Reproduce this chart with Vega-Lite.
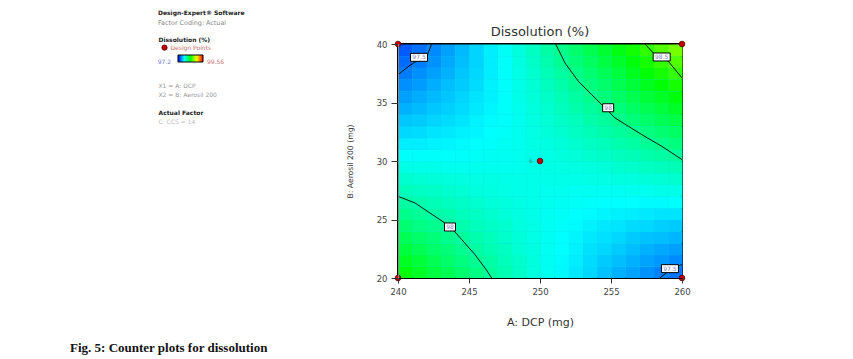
{
"$schema": "https://vega.github.io/schema/vega-lite/v6.json",
"background": "white",
"padding": {"left": 70, "top": 9, "right": 5, "bottom": 5},
"config": {
  "font": "DejaVu Sans",
  "view": {"stroke": "#000", "strokeWidth": 2},
  "axis": {"grid": false, "labelFont": "DejaVu Sans", "titleFont": "DejaVu Sans", "labelColor": "#444", "titleColor": "#333", "titleFontWeight": "normal", "tickColor": "#333", "domainColor": "#000", "labelFontSize": 8.5}
},
"title": {"text": "Fig. 5: Counter plots for dissolution", "orient": "bottom", "anchor": "start", "frame": "group", "font": "Liberation Serif", "fontSize": 13, "fontWeight": "bold", "color": "#111", "dx": -88, "offset": 13},
"bounds": "flush",
"spacing": 239,
"resolve": {"scale": {"color": "independent"}, "legend": {"color": "independent"}},
"datasets": {
  "lt": [
    {"line": 0, "t": "Dissolution (%)", "role": "heading"},
    {"line": 1, "t": "Design Points", "role": "points"},
    {"line": 5, "t": "X1 = A: DCP", "role": "coding"},
    {"line": 6, "t": "X2 = B: Aerosil 200", "role": "coding"},
    {"line": 8, "t": "Actual Factor", "role": "heading"},
    {"line": 9, "t": "C: CCS = 14", "role": "factor"}
  ],
  "points": [
    {"A": 240, "B": 20, "n": 1}, {"A": 240, "B": 40, "n": 1}, {"A": 260, "B": 20, "n": 1}, {"A": 260, "B": 40, "n": 1}, {"A": 250, "B": 30, "n": 6}
  ],
  "labels": [
    {"lab": "97.5", "A": 241.48, "B": 38.86},
    {"lab": "98.5", "A": 258.57, "B": 38.89},
    {"lab": "98", "A": 254.8, "B": 34.55},
    {"lab": "98", "A": 243.66, "B": 24.36},
    {"lab": "97.5", "A": 259.15, "B": 20.8}
  ],
  "contours": [
    {"c": "a", "o": 1, "A": 240, "B": 37.38}, {"c": "a", "o": 2, "A": 240.85, "B": 38.18}, {"c": "a", "o": 3, "A": 242.09, "B": 39.15}, {"c": "a", "o": 4, "A": 242.37, "B": 40},
    {"c": "b", "o": 1, "A": 257.39, "B": 40}, {"c": "b", "o": 2, "A": 257.98, "B": 39.23}, {"c": "b", "o": 3, "A": 259.04, "B": 38.52}, {"c": "b", "o": 4, "A": 260, "B": 37.1},
    {"c": "c", "o": 1, "A": 251.1, "B": 40}, {"c": "c", "o": 2, "A": 251.76, "B": 38.38}, {"c": "c", "o": 3, "A": 252.7, "B": 36.81}, {"c": "c", "o": 4, "A": 253.64, "B": 35.67}, {"c": "c", "o": 5, "A": 254.46, "B": 34.68}, {"c": "c", "o": 6, "A": 255.28, "B": 33.68}, {"c": "c", "o": 7, "A": 256.22, "B": 32.97}, {"c": "c", "o": 8, "A": 257.16, "B": 32.26}, {"c": "c", "o": 9, "A": 258.57, "B": 31.26}, {"c": "c", "o": 10, "A": 260, "B": 30.12},
    {"c": "d", "o": 1, "A": 240, "B": 26.98}, {"c": "d", "o": 2, "A": 241.2, "B": 26.41}, {"c": "d", "o": 3, "A": 242.6, "B": 25.27}, {"c": "d", "o": 4, "A": 243.66, "B": 24.42}, {"c": "d", "o": 5, "A": 244.49, "B": 23.28}, {"c": "d", "o": 6, "A": 245.42, "B": 22}, {"c": "d", "o": 7, "A": 246.13, "B": 20.85}, {"c": "d", "o": 8, "A": 246.6, "B": 20},
    {"c": "e", "o": 1, "A": 258.45, "B": 20}, {"c": "e", "o": 2, "A": 259.2, "B": 20.75}, {"c": "e", "o": 3, "A": 260, "B": 21.15}
  ],
  "grid": [
{"A":240.5,"B":20.5,"D":98.36},{"A":241.5,"B":20.5,"D":98.30},{"A":242.5,"B":20.5,"D":98.24},{"A":243.5,"B":20.5,"D":98.19},{"A":244.5,"B":20.5,"D":98.13},{"A":245.5,"B":20.5,"D":98.08},{"A":246.5,"B":20.5,"D":98.02},{"A":247.5,"B":20.5,"D":97.97},{"A":248.5,"B":20.5,"D":97.92},{"A":249.5,"B":20.5,"D":97.87},{"A":250.5,"B":20.5,"D":97.83},{"A":251.5,"B":20.5,"D":97.78},{"A":252.5,"B":20.5,"D":97.74},{"A":253.5,"B":20.5,"D":97.70},{"A":254.5,"B":20.5,"D":97.65},{"A":255.5,"B":20.5,"D":97.61},{"A":256.5,"B":20.5,"D":97.58},{"A":257.5,"B":20.5,"D":97.54},{"A":258.5,"B":20.5,"D":97.50},{"A":259.5,"B":20.5,"D":97.47},
{"A":240.5,"B":21.5,"D":98.30},{"A":241.5,"B":21.5,"D":98.25},{"A":242.5,"B":21.5,"D":98.19},{"A":243.5,"B":21.5,"D":98.14},{"A":244.5,"B":21.5,"D":98.09},{"A":245.5,"B":21.5,"D":98.04},{"A":246.5,"B":21.5,"D":98.00},{"A":247.5,"B":21.5,"D":97.95},{"A":248.5,"B":21.5,"D":97.91},{"A":249.5,"B":21.5,"D":97.87},{"A":250.5,"B":21.5,"D":97.82},{"A":251.5,"B":21.5,"D":97.78},{"A":252.5,"B":21.5,"D":97.75},{"A":253.5,"B":21.5,"D":97.71},{"A":254.5,"B":21.5,"D":97.67},{"A":255.5,"B":21.5,"D":97.64},{"A":256.5,"B":21.5,"D":97.61},{"A":257.5,"B":21.5,"D":97.58},{"A":258.5,"B":21.5,"D":97.55},{"A":259.5,"B":21.5,"D":97.52},
{"A":240.5,"B":22.5,"D":98.24},{"A":241.5,"B":22.5,"D":98.19},{"A":242.5,"B":22.5,"D":98.14},{"A":243.5,"B":22.5,"D":98.10},{"A":244.5,"B":22.5,"D":98.05},{"A":245.5,"B":22.5,"D":98.01},{"A":246.5,"B":22.5,"D":97.97},{"A":247.5,"B":22.5,"D":97.93},{"A":248.5,"B":22.5,"D":97.89},{"A":249.5,"B":22.5,"D":97.86},{"A":250.5,"B":22.5,"D":97.82},{"A":251.5,"B":22.5,"D":97.79},{"A":252.5,"B":22.5,"D":97.76},{"A":253.5,"B":22.5,"D":97.72},{"A":254.5,"B":22.5,"D":97.70},{"A":255.5,"B":22.5,"D":97.67},{"A":256.5,"B":22.5,"D":97.64},{"A":257.5,"B":22.5,"D":97.61},{"A":258.5,"B":22.5,"D":97.59},{"A":259.5,"B":22.5,"D":97.57},
{"A":240.5,"B":23.5,"D":98.18},{"A":241.5,"B":23.5,"D":98.14},{"A":242.5,"B":23.5,"D":98.10},{"A":243.5,"B":23.5,"D":98.06},{"A":244.5,"B":23.5,"D":98.02},{"A":245.5,"B":23.5,"D":97.98},{"A":246.5,"B":23.5,"D":97.95},{"A":247.5,"B":23.5,"D":97.91},{"A":248.5,"B":23.5,"D":97.88},{"A":249.5,"B":23.5,"D":97.85},{"A":250.5,"B":23.5,"D":97.82},{"A":251.5,"B":23.5,"D":97.79},{"A":252.5,"B":23.5,"D":97.77},{"A":253.5,"B":23.5,"D":97.74},{"A":254.5,"B":23.5,"D":97.72},{"A":255.5,"B":23.5,"D":97.70},{"A":256.5,"B":23.5,"D":97.67},{"A":257.5,"B":23.5,"D":97.65},{"A":258.5,"B":23.5,"D":97.64},{"A":259.5,"B":23.5,"D":97.62},
{"A":240.5,"B":24.5,"D":98.12},{"A":241.5,"B":24.5,"D":98.08},{"A":242.5,"B":24.5,"D":98.05},{"A":243.5,"B":24.5,"D":98.02},{"A":244.5,"B":24.5,"D":97.98},{"A":245.5,"B":24.5,"D":97.95},{"A":246.5,"B":24.5,"D":97.92},{"A":247.5,"B":24.5,"D":97.90},{"A":248.5,"B":24.5,"D":97.87},{"A":249.5,"B":24.5,"D":97.85},{"A":250.5,"B":24.5,"D":97.82},{"A":251.5,"B":24.5,"D":97.80},{"A":252.5,"B":24.5,"D":97.78},{"A":253.5,"B":24.5,"D":97.76},{"A":254.5,"B":24.5,"D":97.74},{"A":255.5,"B":24.5,"D":97.73},{"A":256.5,"B":24.5,"D":97.71},{"A":257.5,"B":24.5,"D":97.70},{"A":258.5,"B":24.5,"D":97.68},{"A":259.5,"B":24.5,"D":97.67},
{"A":240.5,"B":25.5,"D":98.06},{"A":241.5,"B":25.5,"D":98.03},{"A":242.5,"B":25.5,"D":98.00},{"A":243.5,"B":25.5,"D":97.98},{"A":244.5,"B":25.5,"D":97.95},{"A":245.5,"B":25.5,"D":97.93},{"A":246.5,"B":25.5,"D":97.90},{"A":247.5,"B":25.5,"D":97.88},{"A":248.5,"B":25.5,"D":97.86},{"A":249.5,"B":25.5,"D":97.84},{"A":250.5,"B":25.5,"D":97.82},{"A":251.5,"B":25.5,"D":97.81},{"A":252.5,"B":25.5,"D":97.79},{"A":253.5,"B":25.5,"D":97.78},{"A":254.5,"B":25.5,"D":97.77},{"A":255.5,"B":25.5,"D":97.76},{"A":256.5,"B":25.5,"D":97.75},{"A":257.5,"B":25.5,"D":97.74},{"A":258.5,"B":25.5,"D":97.73},{"A":259.5,"B":25.5,"D":97.73},
{"A":240.5,"B":26.5,"D":98.01},{"A":241.5,"B":26.5,"D":97.98},{"A":242.5,"B":26.5,"D":97.96},{"A":243.5,"B":26.5,"D":97.94},{"A":244.5,"B":26.5,"D":97.92},{"A":245.5,"B":26.5,"D":97.90},{"A":246.5,"B":26.5,"D":97.88},{"A":247.5,"B":26.5,"D":97.87},{"A":248.5,"B":26.5,"D":97.85},{"A":249.5,"B":26.5,"D":97.84},{"A":250.5,"B":26.5,"D":97.83},{"A":251.5,"B":26.5,"D":97.82},{"A":252.5,"B":26.5,"D":97.81},{"A":253.5,"B":26.5,"D":97.80},{"A":254.5,"B":26.5,"D":97.79},{"A":255.5,"B":26.5,"D":97.79},{"A":256.5,"B":26.5,"D":97.79},{"A":257.5,"B":26.5,"D":97.78},{"A":258.5,"B":26.5,"D":97.78},{"A":259.5,"B":26.5,"D":97.79},
{"A":240.5,"B":27.5,"D":97.95},{"A":241.5,"B":27.5,"D":97.93},{"A":242.5,"B":27.5,"D":97.92},{"A":243.5,"B":27.5,"D":97.90},{"A":244.5,"B":27.5,"D":97.89},{"A":245.5,"B":27.5,"D":97.87},{"A":246.5,"B":27.5,"D":97.86},{"A":247.5,"B":27.5,"D":97.85},{"A":248.5,"B":27.5,"D":97.84},{"A":249.5,"B":27.5,"D":97.84},{"A":250.5,"B":27.5,"D":97.83},{"A":251.5,"B":27.5,"D":97.83},{"A":252.5,"B":27.5,"D":97.82},{"A":253.5,"B":27.5,"D":97.82},{"A":254.5,"B":27.5,"D":97.82},{"A":255.5,"B":27.5,"D":97.82},{"A":256.5,"B":27.5,"D":97.83},{"A":257.5,"B":27.5,"D":97.83},{"A":258.5,"B":27.5,"D":97.84},{"A":259.5,"B":27.5,"D":97.84},
{"A":240.5,"B":28.5,"D":97.90},{"A":241.5,"B":28.5,"D":97.89},{"A":242.5,"B":28.5,"D":97.88},{"A":243.5,"B":28.5,"D":97.87},{"A":244.5,"B":28.5,"D":97.86},{"A":245.5,"B":28.5,"D":97.85},{"A":246.5,"B":28.5,"D":97.85},{"A":247.5,"B":28.5,"D":97.84},{"A":248.5,"B":28.5,"D":97.84},{"A":249.5,"B":28.5,"D":97.84},{"A":250.5,"B":28.5,"D":97.84},{"A":251.5,"B":28.5,"D":97.84},{"A":252.5,"B":28.5,"D":97.84},{"A":253.5,"B":28.5,"D":97.85},{"A":254.5,"B":28.5,"D":97.85},{"A":255.5,"B":28.5,"D":97.86},{"A":256.5,"B":28.5,"D":97.87},{"A":257.5,"B":28.5,"D":97.88},{"A":258.5,"B":28.5,"D":97.89},{"A":259.5,"B":28.5,"D":97.90},
{"A":240.5,"B":29.5,"D":97.85},{"A":241.5,"B":29.5,"D":97.84},{"A":242.5,"B":29.5,"D":97.84},{"A":243.5,"B":29.5,"D":97.83},{"A":244.5,"B":29.5,"D":97.83},{"A":245.5,"B":29.5,"D":97.83},{"A":246.5,"B":29.5,"D":97.83},{"A":247.5,"B":29.5,"D":97.83},{"A":248.5,"B":29.5,"D":97.83},{"A":249.5,"B":29.5,"D":97.84},{"A":250.5,"B":29.5,"D":97.85},{"A":251.5,"B":29.5,"D":97.85},{"A":252.5,"B":29.5,"D":97.86},{"A":253.5,"B":29.5,"D":97.87},{"A":254.5,"B":29.5,"D":97.88},{"A":255.5,"B":29.5,"D":97.90},{"A":256.5,"B":29.5,"D":97.91},{"A":257.5,"B":29.5,"D":97.93},{"A":258.5,"B":29.5,"D":97.94},{"A":259.5,"B":29.5,"D":97.96},
{"A":240.5,"B":30.5,"D":97.80},{"A":241.5,"B":30.5,"D":97.80},{"A":242.5,"B":30.5,"D":97.80},{"A":243.5,"B":30.5,"D":97.80},{"A":244.5,"B":30.5,"D":97.80},{"A":245.5,"B":30.5,"D":97.81},{"A":246.5,"B":30.5,"D":97.82},{"A":247.5,"B":30.5,"D":97.82},{"A":248.5,"B":30.5,"D":97.83},{"A":249.5,"B":30.5,"D":97.84},{"A":250.5,"B":30.5,"D":97.85},{"A":251.5,"B":30.5,"D":97.87},{"A":252.5,"B":30.5,"D":97.88},{"A":253.5,"B":30.5,"D":97.90},{"A":254.5,"B":30.5,"D":97.92},{"A":255.5,"B":30.5,"D":97.94},{"A":256.5,"B":30.5,"D":97.96},{"A":257.5,"B":30.5,"D":97.98},{"A":258.5,"B":30.5,"D":98.00},{"A":259.5,"B":30.5,"D":98.02},
{"A":240.5,"B":31.5,"D":97.75},{"A":241.5,"B":31.5,"D":97.75},{"A":242.5,"B":31.5,"D":97.76},{"A":243.5,"B":31.5,"D":97.77},{"A":244.5,"B":31.5,"D":97.78},{"A":245.5,"B":31.5,"D":97.79},{"A":246.5,"B":31.5,"D":97.80},{"A":247.5,"B":31.5,"D":97.82},{"A":248.5,"B":31.5,"D":97.83},{"A":249.5,"B":31.5,"D":97.85},{"A":250.5,"B":31.5,"D":97.86},{"A":251.5,"B":31.5,"D":97.88},{"A":252.5,"B":31.5,"D":97.90},{"A":253.5,"B":31.5,"D":97.93},{"A":254.5,"B":31.5,"D":97.95},{"A":255.5,"B":31.5,"D":97.98},{"A":256.5,"B":31.5,"D":98.00},{"A":257.5,"B":31.5,"D":98.03},{"A":258.5,"B":31.5,"D":98.06},{"A":259.5,"B":31.5,"D":98.09},
{"A":240.5,"B":32.5,"D":97.70},{"A":241.5,"B":32.5,"D":97.71},{"A":242.5,"B":32.5,"D":97.73},{"A":243.5,"B":32.5,"D":97.74},{"A":244.5,"B":32.5,"D":97.76},{"A":245.5,"B":32.5,"D":97.77},{"A":246.5,"B":32.5,"D":97.79},{"A":247.5,"B":32.5,"D":97.81},{"A":248.5,"B":32.5,"D":97.83},{"A":249.5,"B":32.5,"D":97.85},{"A":250.5,"B":32.5,"D":97.88},{"A":251.5,"B":32.5,"D":97.90},{"A":252.5,"B":32.5,"D":97.93},{"A":253.5,"B":32.5,"D":97.96},{"A":254.5,"B":32.5,"D":97.99},{"A":255.5,"B":32.5,"D":98.02},{"A":256.5,"B":32.5,"D":98.05},{"A":257.5,"B":32.5,"D":98.08},{"A":258.5,"B":32.5,"D":98.12},{"A":259.5,"B":32.5,"D":98.15},
{"A":240.5,"B":33.5,"D":97.66},{"A":241.5,"B":33.5,"D":97.67},{"A":242.5,"B":33.5,"D":97.69},{"A":243.5,"B":33.5,"D":97.71},{"A":244.5,"B":33.5,"D":97.73},{"A":245.5,"B":33.5,"D":97.76},{"A":246.5,"B":33.5,"D":97.78},{"A":247.5,"B":33.5,"D":97.80},{"A":248.5,"B":33.5,"D":97.83},{"A":249.5,"B":33.5,"D":97.86},{"A":250.5,"B":33.5,"D":97.89},{"A":251.5,"B":33.5,"D":97.92},{"A":252.5,"B":33.5,"D":97.95},{"A":253.5,"B":33.5,"D":97.99},{"A":254.5,"B":33.5,"D":98.02},{"A":255.5,"B":33.5,"D":98.06},{"A":256.5,"B":33.5,"D":98.10},{"A":257.5,"B":33.5,"D":98.14},{"A":258.5,"B":33.5,"D":98.18},{"A":259.5,"B":33.5,"D":98.22},
{"A":240.5,"B":34.5,"D":97.61},{"A":241.5,"B":34.5,"D":97.63},{"A":242.5,"B":34.5,"D":97.66},{"A":243.5,"B":34.5,"D":97.68},{"A":244.5,"B":34.5,"D":97.71},{"A":245.5,"B":34.5,"D":97.74},{"A":246.5,"B":34.5,"D":97.77},{"A":247.5,"B":34.5,"D":97.80},{"A":248.5,"B":34.5,"D":97.83},{"A":249.5,"B":34.5,"D":97.87},{"A":250.5,"B":34.5,"D":97.90},{"A":251.5,"B":34.5,"D":97.94},{"A":252.5,"B":34.5,"D":97.98},{"A":253.5,"B":34.5,"D":98.02},{"A":254.5,"B":34.5,"D":98.06},{"A":255.5,"B":34.5,"D":98.10},{"A":256.5,"B":34.5,"D":98.15},{"A":257.5,"B":34.5,"D":98.19},{"A":258.5,"B":34.5,"D":98.24},{"A":259.5,"B":34.5,"D":98.29},
{"A":240.5,"B":35.5,"D":97.57},{"A":241.5,"B":35.5,"D":97.60},{"A":242.5,"B":35.5,"D":97.63},{"A":243.5,"B":35.5,"D":97.66},{"A":244.5,"B":35.5,"D":97.69},{"A":245.5,"B":35.5,"D":97.73},{"A":246.5,"B":35.5,"D":97.76},{"A":247.5,"B":35.5,"D":97.80},{"A":248.5,"B":35.5,"D":97.84},{"A":249.5,"B":35.5,"D":97.88},{"A":250.5,"B":35.5,"D":97.92},{"A":251.5,"B":35.5,"D":97.96},{"A":252.5,"B":35.5,"D":98.01},{"A":253.5,"B":35.5,"D":98.05},{"A":254.5,"B":35.5,"D":98.10},{"A":255.5,"B":35.5,"D":98.15},{"A":256.5,"B":35.5,"D":98.20},{"A":257.5,"B":35.5,"D":98.25},{"A":258.5,"B":35.5,"D":98.30},{"A":259.5,"B":35.5,"D":98.36},
{"A":240.5,"B":36.5,"D":97.53},{"A":241.5,"B":36.5,"D":97.56},{"A":242.5,"B":36.5,"D":97.60},{"A":243.5,"B":36.5,"D":97.64},{"A":244.5,"B":36.5,"D":97.67},{"A":245.5,"B":36.5,"D":97.71},{"A":246.5,"B":36.5,"D":97.76},{"A":247.5,"B":36.5,"D":97.80},{"A":248.5,"B":36.5,"D":97.84},{"A":249.5,"B":36.5,"D":97.89},{"A":250.5,"B":36.5,"D":97.94},{"A":251.5,"B":36.5,"D":97.99},{"A":252.5,"B":36.5,"D":98.04},{"A":253.5,"B":36.5,"D":98.09},{"A":254.5,"B":36.5,"D":98.14},{"A":255.5,"B":36.5,"D":98.20},{"A":256.5,"B":36.5,"D":98.25},{"A":257.5,"B":36.5,"D":98.31},{"A":258.5,"B":36.5,"D":98.37},{"A":259.5,"B":36.5,"D":98.43},
{"A":240.5,"B":37.5,"D":97.49},{"A":241.5,"B":37.5,"D":97.53},{"A":242.5,"B":37.5,"D":97.57},{"A":243.5,"B":37.5,"D":97.61},{"A":244.5,"B":37.5,"D":97.66},{"A":245.5,"B":37.5,"D":97.70},{"A":246.5,"B":37.5,"D":97.75},{"A":247.5,"B":37.5,"D":97.80},{"A":248.5,"B":37.5,"D":97.85},{"A":249.5,"B":37.5,"D":97.90},{"A":250.5,"B":37.5,"D":97.96},{"A":251.5,"B":37.5,"D":98.01},{"A":252.5,"B":37.5,"D":98.07},{"A":253.5,"B":37.5,"D":98.12},{"A":254.5,"B":37.5,"D":98.18},{"A":255.5,"B":37.5,"D":98.24},{"A":256.5,"B":37.5,"D":98.31},{"A":257.5,"B":37.5,"D":98.37},{"A":258.5,"B":37.5,"D":98.43},{"A":259.5,"B":37.5,"D":98.50},
{"A":240.5,"B":38.5,"D":97.45},{"A":241.5,"B":38.5,"D":97.49},{"A":242.5,"B":38.5,"D":97.54},{"A":243.5,"B":38.5,"D":97.59},{"A":244.5,"B":38.5,"D":97.64},{"A":245.5,"B":38.5,"D":97.69},{"A":246.5,"B":38.5,"D":97.75},{"A":247.5,"B":38.5,"D":97.80},{"A":248.5,"B":38.5,"D":97.86},{"A":249.5,"B":38.5,"D":97.92},{"A":250.5,"B":38.5,"D":97.98},{"A":251.5,"B":38.5,"D":98.04},{"A":252.5,"B":38.5,"D":98.10},{"A":253.5,"B":38.5,"D":98.16},{"A":254.5,"B":38.5,"D":98.23},{"A":255.5,"B":38.5,"D":98.29},{"A":256.5,"B":38.5,"D":98.36},{"A":257.5,"B":38.5,"D":98.43},{"A":258.5,"B":38.5,"D":98.50},{"A":259.5,"B":38.5,"D":98.57},
{"A":240.5,"B":39.5,"D":97.41},{"A":241.5,"B":39.5,"D":97.46},{"A":242.5,"B":39.5,"D":97.52},{"A":243.5,"B":39.5,"D":97.57},{"A":244.5,"B":39.5,"D":97.63},{"A":245.5,"B":39.5,"D":97.69},{"A":246.5,"B":39.5,"D":97.75},{"A":247.5,"B":39.5,"D":97.81},{"A":248.5,"B":39.5,"D":97.87},{"A":249.5,"B":39.5,"D":97.93},{"A":250.5,"B":39.5,"D":98.00},{"A":251.5,"B":39.5,"D":98.06},{"A":252.5,"B":39.5,"D":98.13},{"A":253.5,"B":39.5,"D":98.20},{"A":254.5,"B":39.5,"D":98.27},{"A":255.5,"B":39.5,"D":98.34},{"A":256.5,"B":39.5,"D":98.42},{"A":257.5,"B":39.5,"D":98.49},{"A":258.5,"B":39.5,"D":98.57},{"A":259.5,"B":39.5,"D":98.65}
  ]
},
"hconcat": [
  {
    "width": 1,
    "height": 82,
    "view": {"stroke": null},
    "title": {"text": "Design-Expert® Software", "subtitle": "Factor Coding: Actual", "anchor": "start", "frame": "group", "font": "DejaVu Sans", "fontSize": 6, "fontWeight": "bold", "color": "#222", "subtitleFont": "DejaVu Sans", "subtitleFontSize": 6.4, "subtitleColor": "#888", "subtitlePadding": 4, "offset": 11},
    "data": {"name": "lt"},
    "encoding": {
      "y": {"field": "line", "type": "ordinal", "scale": {"type": "point", "domain": [0,1,2,3,4,5,6,7,8,9], "padding": 0}, "axis": null}
    },
    "layer": [
      {"transform": [{"filter": "datum.role == 'heading'"}], "mark": {"type": "text", "align": "left", "baseline": "middle", "dy": -4, "font": "DejaVu Sans", "fontSize": 6, "fontWeight": "bold", "color": "#222"}, "encoding": {"text": {"field": "t"}}},
      {"transform": [{"filter": "datum.role == 'points'"}], "mark": {"type": "text", "align": "left", "baseline": "middle", "dy": -5.5, "dx": 12, "font": "DejaVu Sans", "fontSize": 6, "color": "#c87070"}, "encoding": {"text": {"field": "t"}}},
      {"transform": [{"filter": "datum.role == 'points'"}], "mark": {"type": "point", "shape": "circle", "filled": true, "fill": "#c40000", "stroke": "#5a0000", "strokeWidth": 0.8, "size": 28, "opacity": 1, "xOffset": 6, "yOffset": -5.5}},
      {"transform": [{"filter": "datum.role == 'coding'"}], "mark": {"type": "text", "align": "left", "baseline": "middle", "dy": -4, "font": "DejaVu Sans", "fontSize": 6, "color": "#999"}, "encoding": {"text": {"field": "t"}}},
      {"transform": [{"filter": "datum.role == 'factor'"}], "mark": {"type": "text", "align": "left", "baseline": "middle", "dy": -4, "font": "DejaVu Sans", "fontSize": 6, "color": "#bbb"}, "encoding": {"text": {"field": "t"}}}
    ]
  },
  {
    "width": 284,
    "height": 234,
    "view": {"fill": "#10dcdc", "stroke": "#000", "strokeWidth": 2},
    "title": {"text": "Dissolution (%)", "font": "DejaVu Sans", "fontSize": 13, "fontWeight": "normal", "color": "#333", "offset": 1},
    "layer": [
      {
        "data": {"name": "grid"},
        "mark": {"type": "rect", "binSpacing": 0},
        "encoding": {
          "x": {"field": "A", "type": "quantitative", "bin": {"step": 1, "extent": [240, 260]}, "title": "A: DCP (mg)",
                "scale": {"domain": [240, 260], "nice": false, "zero": false},
                "axis": {"values": [240, 245, 250, 255, 260], "format": "d", "tickSize": 5, "labelPadding": 4, "titlePadding": 21, "titleFontSize": 11, "labelFlush": false, "labelOverlap": false}},
          "y": {"field": "B", "type": "quantitative", "bin": {"step": 1, "extent": [20, 40]}, "title": "B: Aerosil 200 (mg)",
                "scale": {"domain": [20, 40], "nice": false, "zero": false},
                "axis": {"values": [20, 25, 30, 35, 40], "format": "d", "tickSize": 7, "labelPadding": 4, "titlePadding": 22, "titleFontSize": 7.7, "domainColor": "#888", "labelFlush": false, "labelOverlap": false}},
          "color": {"field": "D", "type": "quantitative",
                    "scale": {"type": "linear", "domain": [97.2, 97.79, 98.38, 98.97, 99.56], "range": ["#0000ff", "#00ffff", "#00ff00", "#ffff00", "#ff0000"], "interpolate": "rgb"},
                    "legend": {"type": "gradient", "orient": "none", "legendX": -220, "legendY": 11, "direction": "horizontal", "gradientLength": 25, "gradientThickness": 7, "title": null, "values": [97.2, 99.56], "labelFont": "DejaVu Sans", "labelFontSize": 6, "labelBaseline": "middle", "labelOffset": -3.5, "labelOverlap": false, "gradientStrokeColor": "#000", "gradientStrokeWidth": 1, "padding": 0, "labelExpr": "'' + datum.value",
                               "encode": {"labels": {"update": {"align": {"signal": "datum.value < 98 ? 'right' : 'left'"}, "dx": {"signal": "datum.value < 98 ? -7 : 4"}, "fill": {"signal": "datum.value < 98 ? '#7a7ad8' : '#cc7777'"}}}}}}
        }
      },
      {
        "data": {"name": "contours"},
        "mark": {"type": "line", "color": "#000", "strokeWidth": 0.9, "clip": true},
        "encoding": {
          "x": {"field": "A", "type": "quantitative", "title": "A: DCP (mg)"},
          "y": {"field": "B", "type": "quantitative", "title": "B: Aerosil 200 (mg)"},
          "detail": {"field": "c"},
          "order": {"field": "o"}
        }
      },
      {
        "data": {"name": "labels"},
        "transform": [{"filter": "length(datum.lab) > 2"}],
        "mark": {"type": "point", "shape": "M-1,-0.47H1V0.47H-1Z", "size": 289, "filled": true, "fill": "#fff", "stroke": "#000", "strokeWidth": 1, "opacity": 1},
        "encoding": {
          "x": {"field": "A", "type": "quantitative", "title": "A: DCP (mg)"},
          "y": {"field": "B", "type": "quantitative", "title": "B: Aerosil 200 (mg)"}
        }
      },
      {
        "data": {"name": "labels"},
        "transform": [{"filter": "length(datum.lab) <= 2"}],
        "mark": {"type": "point", "shape": "M-1,-0.73H1V0.73H-1Z", "size": 121, "filled": true, "fill": "#fff", "stroke": "#000", "strokeWidth": 1, "opacity": 1},
        "encoding": {
          "x": {"field": "A", "type": "quantitative", "title": "A: DCP (mg)"},
          "y": {"field": "B", "type": "quantitative", "title": "B: Aerosil 200 (mg)"}
        }
      },
      {
        "data": {"name": "labels"},
        "mark": {"type": "text", "font": "DejaVu Sans", "fontSize": 6, "color": "#7f86c0", "baseline": "middle", "align": "center"},
        "encoding": {
          "x": {"field": "A", "type": "quantitative", "title": "A: DCP (mg)"},
          "y": {"field": "B", "type": "quantitative", "title": "B: Aerosil 200 (mg)"},
          "text": {"field": "lab"}
        }
      },
      {
        "data": {"name": "points"},
        "mark": {"type": "point", "shape": "circle", "filled": true, "fill": "#c40000", "stroke": "#5a0000", "strokeWidth": 0.8, "size": 32, "opacity": 1},
        "encoding": {
          "x": {"field": "A", "type": "quantitative", "title": "A: DCP (mg)"},
          "y": {"field": "B", "type": "quantitative", "title": "B: Aerosil 200 (mg)"}
        }
      },
      {
        "data": {"name": "points"},
        "transform": [{"filter": "datum.n > 1"}],
        "mark": {"type": "text", "font": "DejaVu Sans", "fontSize": 6, "color": "#3a9a9a", "baseline": "middle", "dx": -9},
        "encoding": {
          "x": {"field": "A", "type": "quantitative", "title": "A: DCP (mg)"},
          "y": {"field": "B", "type": "quantitative", "title": "B: Aerosil 200 (mg)"},
          "text": {"field": "n"}
        }
      }
    ]
  }
]
}
